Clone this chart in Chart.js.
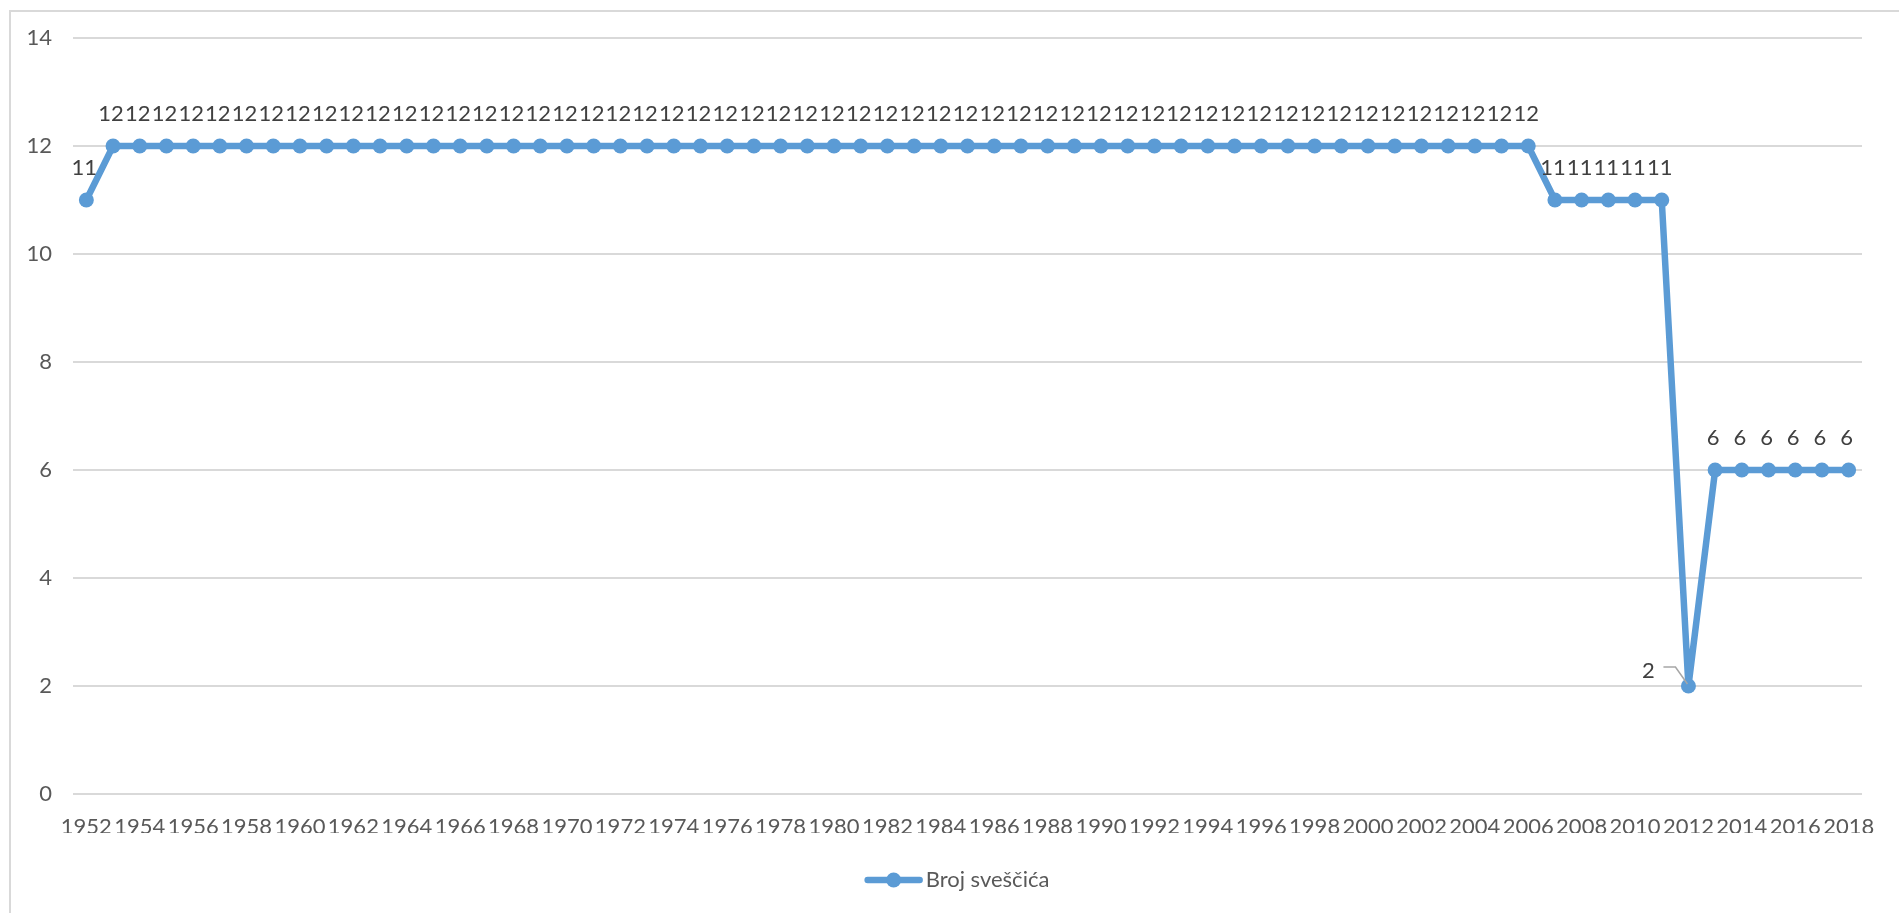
<!DOCTYPE html>
<html>
<head>
<meta charset="utf-8">
<script src="https://cdn.jsdelivr.net/npm/chart.js@4.4.0/dist/chart.umd.min.js"></script>
<style>
  html, body { margin: 0; padding: 0; background: #fff; overflow: hidden; }
  #frame { position: absolute; left: 9px; top: 10px; width: 2000px; height: 1000px;
           border-left: 2px solid #d9d9d9; border-top: 2px solid #d9d9d9; }
  #myChart { position: absolute; left: 0; top: 0; }
</style>
</head>
<body>
<div id="frame"></div>
<canvas id="myChart" width="1899" height="913"></canvas>
<script>
// years 1952..2018
const years = [];
for (let y = 1952; y <= 2018; y++) years.push(String(y));

// broj svescica po godini, procitano sa slike
const values = [
    11,
    12, 12, 12, 12, 12, 12, 12, 12, 12, 12,   // 1953-1962
    12, 12, 12, 12, 12, 12, 12, 12, 12, 12,   // 1963-1972
    12, 12, 12, 12, 12, 12, 12, 12, 12, 12,   // 1973-1982
    12, 12, 12, 12, 12, 12, 12, 12, 12, 12,   // 1983-1992
    12, 12, 12, 12, 12, 12, 12, 12, 12, 12,   // 1993-2002
    12, 12, 12, 12,                           // 2003-2006
    11, 11, 11, 11, 11,                       // 2007-2011
    2,                                        // 2012
    6, 6, 6, 6, 6, 6                          // 2013-2018
];
const seriesName = 'Broj sveščića';
const yTicks = [0, 2, 4, 6, 8, 10, 12, 14];

const blue = '#5b9bd5';
const fontFamily = 'Lato, "Open Sans", sans-serif';

const valueLabels = {
    id: 'valueLabels',
    afterDatasetsDraw(chart) {
        const ctx = chart.ctx;
        const meta = chart.getDatasetMeta(0);
        ctx.save();
        ctx.font = '22px ' + fontFamily;
        ctx.fillStyle = '#404040';
        ctx.textBaseline = 'middle';
        meta.data.forEach((pt, i) => {
            const v = values[i];
            if (v === 2) {
                // label left of the point with a leader line
                ctx.textAlign = 'center';
                ctx.fillText(String(v), pt.x - 40, pt.y - 15);
                ctx.strokeStyle = '#a6a6a6';
                ctx.lineWidth = 1.5;
                ctx.beginPath();
                ctx.moveTo(pt.x - 25, pt.y - 19);
                ctx.lineTo(pt.x - 13, pt.y - 19);
                ctx.lineTo(pt.x - 1, pt.y - 2);
                ctx.stroke();
            } else {
                ctx.textAlign = 'center';
                ctx.fillText(String(v), pt.x - 2, pt.y - 32);
            }
        });
        ctx.restore();
    }
};

const legendDraw = {
    id: 'legendDraw',
    afterDraw(chart) {
        const ctx = chart.ctx;
        ctx.save();
        ctx.font = '22px ' + fontFamily;
        const tw = ctx.measureText(seriesName).width;
        const total = 56 + 4 + tw;
        const x0 = chart.width / 2 + 8 - total / 2;
        const y = 880;
        ctx.strokeStyle = blue;
        ctx.lineWidth = 6.5;
        ctx.lineCap = 'round';
        ctx.beginPath();
        ctx.moveTo(x0 + 2, y);
        ctx.lineTo(x0 + 54, y);
        ctx.stroke();
        ctx.fillStyle = blue;
        ctx.beginPath();
        ctx.arc(x0 + 28, y, 7.5, 0, Math.PI * 2);
        ctx.fill();
        ctx.fillStyle = '#595959';
        ctx.textAlign = 'left';
        ctx.textBaseline = 'middle';
        ctx.fillText(seriesName, x0 + 60, y);
        ctx.restore();
    }
};

const ch = new Chart(document.getElementById('myChart').getContext('2d'), {
    type: 'line',
    data: {
        labels: years,
        datasets: [{
            label: seriesName,
            data: values,
            borderColor: blue,
            backgroundColor: blue,
            borderWidth: 6.5,
            pointRadius: 7.5,
            pointBorderWidth: 0,
            pointBackgroundColor: blue,
            tension: 0
        }]
    },
    options: {
        responsive: false,
        animation: false,
        layout: { padding: { top: 38, right: 37, bottom: 80, left: 0 } },
        plugins: {
            legend: { display: false },
            tooltip: { enabled: false }
        },
        scales: {
            x: {
                offset: true,
                grid: { display: false },
                border: { display: false },
                afterFit(scale) { scale.height = 39; },
                ticks: {
                    autoSkip: false,
                    maxRotation: 0,
                    minRotation: 0,
                    padding: 12,
                    color: '#595959',
                    font: { family: fontFamily, size: 22 },
                    callback(val, i) { return i % 2 === 0 ? years[i] : ''; }
                }
            },
            y: {
                min: yTicks[0],
                max: yTicks[yTicks.length - 1],
                afterFit(scale) { scale.width = 73; },
                afterBuildTicks(scale) { scale.ticks = yTicks.map(v => ({ value: v })); },
                grid: { color: '#d9d9d9', lineWidth: 2, drawTicks: false },
                border: { display: false },
                ticks: {
                    padding: 21,
                    color: '#595959',
                    font: { family: fontFamily, size: 22 }
                }
            }
        }
    },
    plugins: [valueLabels, legendDraw]
});
</script>
</body>
</html>
